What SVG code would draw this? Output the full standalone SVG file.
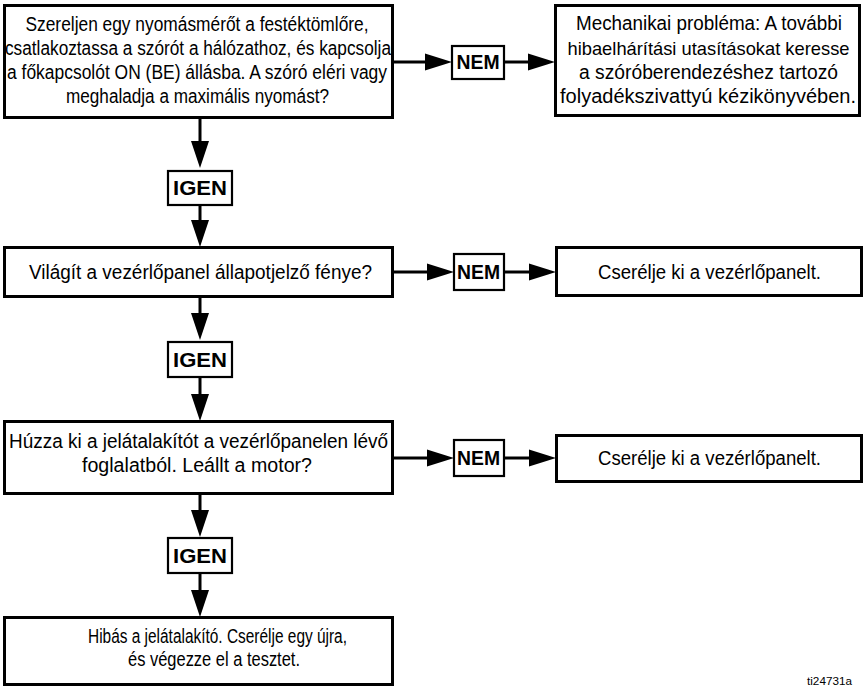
<svg xmlns="http://www.w3.org/2000/svg" width="865" height="688" viewBox="0 0 865 688">
<style>
.box{fill:#fff;stroke:#000;stroke-width:3}
.tag{fill:#fff;stroke:#000;stroke-width:2.2}
.t{font-family:"Liberation Sans Narrow","Liberation Sans",Arial,sans-serif;font-size:20px;fill:#000;text-anchor:middle}
.b{font-family:"Liberation Sans Narrow","Liberation Sans",Arial,sans-serif;font-size:20px;font-weight:bold;fill:#000;text-anchor:middle}
.ln{stroke:#000;stroke-width:3;fill:none}
.ah{fill:#000}
</style>
<rect width="865" height="688" fill="#fff"/>
<g id="connectors">
<line class="ln" x1="200" y1="118" x2="200" y2="150"/><polygon class="ah" points="191,141 209,141 200,168"/>
<line class="ln" x1="200" y1="205" x2="200" y2="230"/><polygon class="ah" points="191,220 209,220 200,247"/>
<line class="ln" x1="200" y1="297" x2="200" y2="322"/><polygon class="ah" points="191,313 209,313 200,340"/>
<line class="ln" x1="200" y1="377" x2="200" y2="404"/><polygon class="ah" points="191,394 209,394 200,421"/>
<line class="ln" x1="200" y1="494" x2="200" y2="520"/><polygon class="ah" points="191,510 209,510 200,537"/>
<line class="ln" x1="200" y1="573" x2="200" y2="600"/><polygon class="ah" points="191,590 209,590 200,617"/>
<line class="ln" x1="393" y1="62" x2="430" y2="62"/><polygon class="ah" points="425,53.5 425,70.5 452,62"/>
<line class="ln" x1="504" y1="62" x2="535" y2="62"/><polygon class="ah" points="528,53.5 528,70.5 555,62"/>
<line class="ln" x1="393" y1="272" x2="432" y2="272"/><polygon class="ah" points="427,263.5 427,280.5 454,272"/>
<line class="ln" x1="504" y1="272" x2="535" y2="272"/><polygon class="ah" points="529,263.5 529,280.5 556,272"/>
<line class="ln" x1="393" y1="458" x2="432" y2="458"/><polygon class="ah" points="427,449.5 427,466.5 454,458"/>
<line class="ln" x1="504" y1="458" x2="535" y2="458"/><polygon class="ah" points="529,449.5 529,466.5 556,458"/>
</g>
<g id="q1">
<rect class="box" x="4.5" y="5.5" width="388" height="112"/>
<text class="t" x="197" y="31" textLength="343" lengthAdjust="spacingAndGlyphs">Szereljen egy nyomásmérőt a festéktömlőre,</text>
<text class="t" x="198" y="55" textLength="386" lengthAdjust="spacingAndGlyphs">csatlakoztassa a szórót a hálózathoz, és kapcsolja</text>
<text class="t" x="197" y="79" textLength="380" lengthAdjust="spacingAndGlyphs">a főkapcsolót ON (BE) állásba. A szóró eléri vagy</text>
<text class="t" x="197.5" y="103" textLength="263" lengthAdjust="spacingAndGlyphs">meghaladja a maximális nyomást?</text>
</g>
<g id="nem1">
<rect class="tag" x="452" y="46" width="52" height="33"/>
<text class="b" x="478" y="69" textLength="43" lengthAdjust="spacingAndGlyphs">NEM</text>
</g>
<g id="r1">
<rect class="box" x="555.5" y="5.5" width="304" height="110"/>
<text class="t" x="709" y="30" textLength="266" lengthAdjust="spacingAndGlyphs">Mechanikai probléma: A további</text>
<text class="t" x="708.5" y="55" style="font-size:19px" textLength="282" lengthAdjust="spacingAndGlyphs">hibaelhárítási utasításokat keresse</text>
<text class="t" x="708.5" y="79" textLength="259" lengthAdjust="spacingAndGlyphs">a szóróberendezéshez tartozó</text>
<text class="t" x="708" y="103" style="font-size:19.5px" textLength="296" lengthAdjust="spacingAndGlyphs">folyadékszivattyú kézikönyvében.</text>
</g>
<g id="igen1">
<rect class="tag" x="168" y="171" width="64" height="34"/>
<text class="b" x="200" y="195" textLength="54" lengthAdjust="spacingAndGlyphs">IGEN</text>
</g>
<g id="q2">
<rect class="box" x="4.5" y="247.5" width="388" height="49"/>
<text class="t" x="200.5" y="279" textLength="343" lengthAdjust="spacingAndGlyphs">Világít a vezérlőpanel állapotjelző fénye?</text>
</g>
<g id="nem2">
<rect class="tag" x="454" y="254" width="50" height="36"/>
<text class="b" x="478.5" y="279" textLength="43" lengthAdjust="spacingAndGlyphs">NEM</text>
</g>
<g id="r2">
<rect class="box" x="556.5" y="247.5" width="305" height="48"/>
<text class="t" x="709.5" y="279" textLength="223" lengthAdjust="spacingAndGlyphs">Cserélje ki a vezérlőpanelt.</text>
</g>
<g id="igen2">
<rect class="tag" x="168" y="342" width="64" height="35"/>
<text class="b" x="200" y="367" textLength="54" lengthAdjust="spacingAndGlyphs">IGEN</text>
</g>
<g id="q3">
<rect class="box" x="4.5" y="421.5" width="388" height="72"/>
<text class="t" x="198.5" y="448" textLength="379" lengthAdjust="spacingAndGlyphs">Húzza ki a jelátalakítót a vezérlőpanelen lévő</text>
<text class="t" x="197" y="472" textLength="230" lengthAdjust="spacingAndGlyphs">foglalatból. Leállt a motor?</text>
</g>
<g id="nem3">
<rect class="tag" x="454" y="440" width="50" height="36"/>
<text class="b" x="478.5" y="465" textLength="43" lengthAdjust="spacingAndGlyphs">NEM</text>
</g>
<g id="r3">
<rect class="box" x="556.5" y="435.5" width="305" height="46"/>
<text class="t" x="709.5" y="465" textLength="223" lengthAdjust="spacingAndGlyphs">Cserélje ki a vezérlőpanelt.</text>
</g>
<g id="igen3">
<rect class="tag" x="168" y="538" width="64" height="35"/>
<text class="b" x="200" y="563" textLength="54" lengthAdjust="spacingAndGlyphs">IGEN</text>
</g>
<g id="end">
<rect class="box" x="4.5" y="617.5" width="388" height="67"/>
<text class="t" x="217.5" y="643" textLength="259" lengthAdjust="spacingAndGlyphs">Hibás a jelátalakító. Cserélje egy újra,</text>
<text class="t" x="214" y="666" textLength="172" lengthAdjust="spacingAndGlyphs">és végezze el a tesztet.</text>
</g>
<text x="829.5" y="685" style="font-family:'Liberation Sans Narrow','Liberation Sans',Arial,sans-serif;font-size:11px;text-anchor:middle" textLength="45" lengthAdjust="spacingAndGlyphs">ti24731a</text>
</svg>
